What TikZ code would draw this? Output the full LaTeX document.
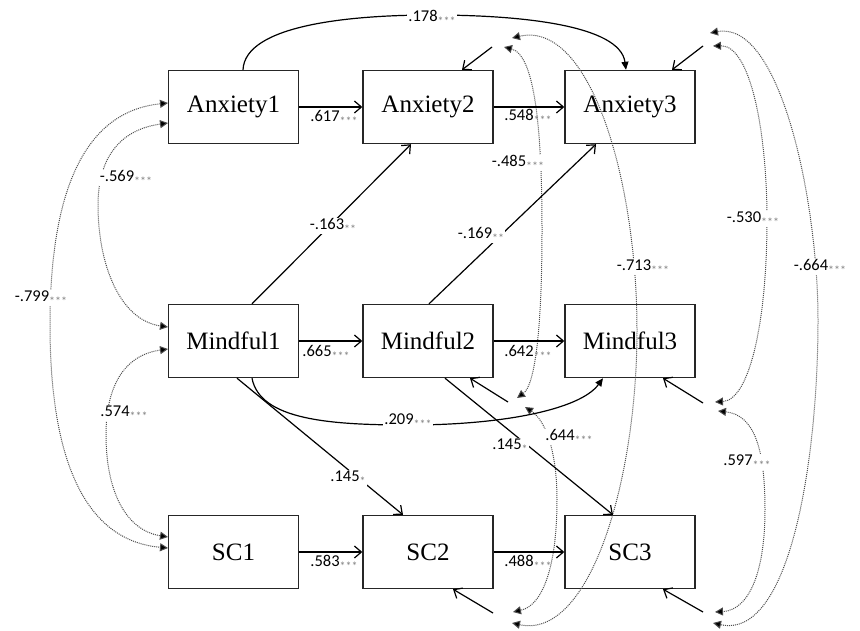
\documentclass[tikz,border=0pt]{standalone}
\usepackage{fontspec}
\setmainfont{Liberation Serif}
\newfontfamily\lblfont{Carlito}
\usetikzlibrary{arrows.meta}
\newcommand\sigst[1]{{\color{black!50}\fontsize{12}{12}\selectfont\raisebox{-3.5pt}{#1}}}
\begin{document}
\begin{tikzpicture}[x=1pt,y=-1pt,
 var/.style={draw=black!85, line width=1.4pt, minimum width=130pt, minimum height=73pt, inner sep=0pt, font=\fontsize{25}{25}\selectfont},
 reg/.style={line width=1.2pt, -{Straight Barb[length=7pt,width=12pt]}},
 lag/.style={line width=1.2pt, -{Triangle[length=8pt,width=7pt]}},
 cov/.style={densely dotted, line width=1pt, draw=black!70, {Triangle[length=8pt,width=8pt,fill=black]}-{Triangle[length=8pt,width=8pt,fill=black]}},
 est/.style={font=\lblfont\fontsize{16.5}{16.5}\selectfont, inner sep=1pt},
 estw/.style={est, fill=white},
]
\useasboundingbox (0,0) rectangle (860,630);

% boxes
\node[var] (A1) at (233.5,107) {Anxiety1};
\node[var] (A2) at (428,107) {Anxiety2};
\node[var] (A3) at (630,107) {Anxiety3};
\node[var] (M1) at (233.5,341) {Mindful1};
\node[var] (M2) at (428,341) {Mindful2};
\node[var] (M3) at (630,341) {Mindful3};
\node[var] (S1) at (233.5,552) {SC1};
\node[var] (S2) at (428,552) {SC2};
\node[var] (S3) at (630,552) {SC3};

% residual sources
\coordinate (rA2) at (492,47);
\coordinate (rA3) at (703,46);
\coordinate (rM2) at (508,402);
\coordinate (rM3) at (703,403);
\coordinate (rS2) at (493,613);
\coordinate (rS3) at (703,612);

% covariance end points
\coordinate (cA1a) at (168,103);
\coordinate (cA1b) at (168,123);
\coordinate (cM1a) at (168,327);
\coordinate (cM1b) at (168,349);
\coordinate (cS1a) at (168,537);
\coordinate (cS1b) at (168,548);
\coordinate (cA2a) at (512,38);
\coordinate (cA2b) at (504,47);
\coordinate (cM2a) at (517,398);
\coordinate (cM2b) at (525,407);
\coordinate (cS2a) at (513,612);
\coordinate (cS2b) at (512,623);
\coordinate (cA3a) at (710,33);
\coordinate (cA3b) at (713,46);
\coordinate (cM3a) at (715,402);
\coordinate (cM3b) at (718,411);
\coordinate (cS3a) at (715,612);
\coordinate (cS3b) at (713,623);

% covariances
\draw[cov] (cA1a) .. controls (80,112) and (50,200) .. (50,325) .. controls (50,450) and (80,540) .. (cS1b);
\draw[cov] (cA1b) .. controls (118,130) and (98,160) .. (98,205) .. controls (98,265) and (120,320) .. (cM1a);
\draw[cov] (cM1b) .. controls (125,355) and (106,385) .. (106,435) .. controls (106,490) and (125,530) .. (cS1a);
\draw[cov] (cA2b) .. controls (535,55) and (542,130) .. (542,230) .. controls (542,330) and (535,385) .. (cM2a);
\draw[cov] (cM2b) .. controls (545,420) and (557,450) .. (557,500) .. controls (557,560) and (545,605) .. (cS2a);
\draw[cov] (cA2a) .. controls (590,20) and (637,180) .. (637,330) .. controls (637,480) and (590,640) .. (cS2b);
\draw[cov] (cA3b) .. controls (750,45) and (767,130) .. (767,220) .. controls (767,320) and (750,400) .. (cM3a);
\draw[cov] (cM3b) .. controls (755,415) and (765,450) .. (765,510) .. controls (765,570) and (750,610) .. (cS3a);
\draw[cov] (cA3a) .. controls (780,20) and (818,200) .. (818,320) .. controls (818,460) and (790,640) .. (cS3b);

% residual arrows
\draw[reg] (rA2) -- ([xshift=34pt]A2.north);
\draw[reg] (rA3) -- ([xshift=42pt]A3.north);
\draw[reg] (rM2) -- ([xshift=42pt]M2.south);
\draw[reg] (rM3) -- ([xshift=33pt]M3.south);
\draw[reg] (rS2) -- ([xshift=25pt]S2.south);
\draw[reg] (rS3) -- ([xshift=33pt]S3.south);

% autoregressive paths
\draw[reg] (A1) -- (A2);
\draw[reg] (A2) -- (A3);
\draw[reg] (M1) -- (M2);
\draw[reg] (M2) -- (M3);
\draw[reg] (S1) -- (S2);
\draw[reg] (S2) -- (S3);

% cross-lagged paths
\draw[reg] ([xshift=18.5pt]M1.north) -- ([xshift=-17pt]A2.south);
\draw[reg] ([xshift=1pt]M2.north) -- ([xshift=-34pt]A3.south);
\draw[reg] ([xshift=3.5pt]M1.south) -- ([xshift=-25pt]S2.north);
\draw[reg] ([xshift=17pt]M2.south) -- ([xshift=-17pt]S3.north);

% lag-2 paths
\draw[lag] ([xshift=9.5pt]A1.north) .. controls (245,25) and (350,15) .. (432,15) .. controls (520,15) and (620,25) .. ([xshift=-4pt]A3.north);
\draw[lag] ([xshift=18.5pt]M1.south) .. controls (260,420) and (330,425) .. (410,425) .. controls (500,425) and (580,410) .. ([xshift=-27pt]M3.south);

% estimates
\node[est] (e617) at (334,118) {.617\sigst{***}};
\node[est] (e548) at (528,117) {.548\sigst{***}};
\node[est] (e665) at (326,353) {.665\sigst{***}};
\node[est] (e642) at (528,353) {.642\sigst{***}};
\node[est] (e583) at (334,563) {.583\sigst{***}};
\node[est] (e488) at (528,563) {.488\sigst{***}};
\node[estw] (e178) at (432,18) {.178\sigst{***}};
\node[estw] (e209) at (408,421) {.209\sigst{***}};
\node[estw] (e163) at (333,226) {-.163\sigst{**}};
\node[estw] (e169) at (481,235) {-.169\sigst{**}};
\node[estw] (e145a) at (348,478) {.145\sigst{*}};
\node[estw] (e145b) at (510,446) {.145\sigst{*}};
\node[estw] (e569) at (126,178) {-.569\sigst{***}};
\node[estw] (e799) at (41,298) {-.799\sigst{***}};
\node[estw] (e574) at (124,413) {.574\sigst{***}};
\node[estw] (e485) at (518,163) {-.485\sigst{***}};
\node[estw] (e644) at (569,437) {.644\sigst{***}};
\node[estw] (e713) at (643,267) {-.713\sigst{***}};
\node[estw] (e530) at (753,219) {-.530\sigst{***}};
\node[estw] (e597) at (747,462) {.597\sigst{***}};
\node[estw] (e664) at (820,267) {-.664\sigst{***}};
\end{tikzpicture}
\end{document}
